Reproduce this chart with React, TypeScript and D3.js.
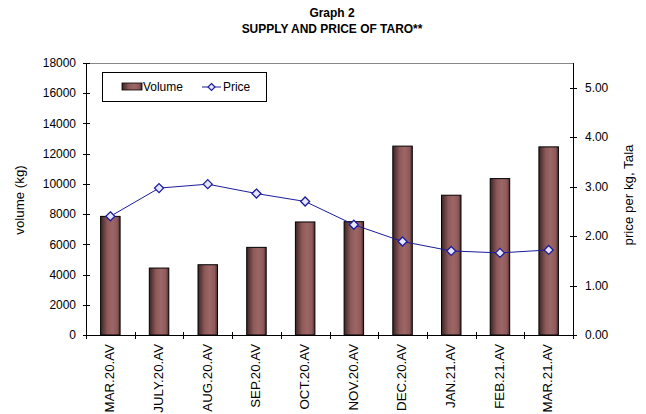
import React from 'react';
import * as d3 from 'd3';

const categories = ['MAR.20.AV', 'JULY.20.AV', 'AUG.20.AV', 'SEP.20.AV', 'OCT.20.AV', 'NOV.20.AV', 'DEC.20.AV', 'JAN.21.AV', 'FEB.21.AV', 'MAR.21.AV'];
const volume = [7850, 4430, 4650, 5800, 7480, 7500, 12500, 9250, 10350, 12450];
const price = [2.4, 2.97, 3.05, 2.86, 2.7, 2.23, 1.89, 1.7, 1.66, 1.72];
const leftTicks = [0, 2000, 4000, 6000, 8000, 10000, 12000, 14000, 16000, 18000];
const rightTicks = [0, 1, 2, 3, 4, 5];

const W = 646;
const H = 414;
const left = 86;
const right = 573;
const top = 63;
const bottom = 335;
const font = 'Liberation Sans, Arial, sans-serif';
const FS = 13.3;
const SX = 0.9;

function T(props: { x: number; y: number; rot?: boolean; anchor?: string; bold?: boolean; children: React.ReactNode }) {
  const { x, y, rot, anchor = 'start', bold, children } = props;
  return (
    <text
      transform={`translate(${x},${y}) scale(${SX},1)${rot ? ' rotate(-90)' : ''}`}
      textAnchor={anchor}
      dominantBaseline="central"
      fontSize={FS}
      fontWeight={bold ? 'bold' : 'normal'}
    >
      {children}
    </text>
  );
}

export default function App() {
  const x = d3.scaleBand<string>().domain(categories).range([left, right]).padding(0);
  const yL = d3.scaleLinear().domain([0, 18000]).range([bottom, top]);
  const yR = d3.scaleLinear().domain([0, 5.5]).range([bottom, top]);
  const bw = x.bandwidth() * 0.4;
  const cx = (c: string) => (x(c) as number) + x.bandwidth() / 2;
  const line = d3
    .line<number>()
    .x((_, i) => cx(categories[i]))
    .y((d) => yR(d));
  const diamond = (px: number, py: number, r = 4.5) =>
    `M${px},${py - r}L${px + r},${py}L${px},${py + r}L${px - r},${py}Z`;
  const boundaries = categories.map((c) => x(c) as number).concat([right]);

  return (
    <svg width={W} height={H} style={{ position: 'absolute', left: 0, top: 0, background: '#fff' }} fontFamily={font}>
      <defs>
        <linearGradient id="barGrad" x1="0" x2="1" y1="0" y2="0">
          <stop offset="0" stopColor="#3e2424" />
          <stop offset="0.35" stopColor="#8e5a5a" />
          <stop offset="0.6" stopColor="#9e6666" />
          <stop offset="0.85" stopColor="#8e5a5a" />
          <stop offset="1" stopColor="#4a2c2c" />
        </linearGradient>
      </defs>
      <rect x={0} y={0} width={W} height={H} fill="#fff" />
      <T x={332} y={13} anchor="middle" bold>Graph 2</T>
      <T x={332} y={29} anchor="middle" bold>SUPPLY AND PRICE OF TARO**</T>

      {/* plot top border */}
      <line x1={left} x2={right} y1={top + 0.5} y2={top + 0.5} stroke="#888" strokeWidth={1} />

      {/* bars */}
      {categories.map((c, i) => (
        <rect
          key={c}
          x={cx(c) - bw / 2}
          y={yL(volume[i])}
          width={bw}
          height={bottom - yL(volume[i])}
          fill="url(#barGrad)"
          stroke="#000"
          strokeWidth={1}
        />
      ))}

      {/* price line */}
      <path d={line(price) as string} fill="none" stroke="#1c1c9c" strokeWidth={1} />
      {price.map((p, i) => (
        <path key={i} d={diamond(cx(categories[i]), yR(p))} fill="#e6e6ff" stroke="#1c1c9c" strokeWidth={1.3} />
      ))}

      {/* left axis */}
      <line x1={left + 0.5} x2={left + 0.5} y1={top} y2={bottom} stroke="#000" />
      {leftTicks.map((t) => (
        <g key={t}>
          <line x1={left - 3} x2={left + 4} y1={Math.round(yL(t)) + 0.5} y2={Math.round(yL(t)) + 0.5} stroke="#000" />
          <T x={76} y={yL(t)} anchor="end">{t}</T>
        </g>
      ))}

      {/* right axis */}
      <line x1={right + 0.5} x2={right + 0.5} y1={top} y2={bottom} stroke="#000" />
      {rightTicks.map((t) => (
        <g key={t}>
          <line x1={right - 3} x2={right + 4} y1={Math.round(yR(t)) + 0.5} y2={Math.round(yR(t)) + 0.5} stroke="#000" />
          <T x={585} y={yR(t)}>{t.toFixed(2)}</T>
        </g>
      ))}

      {/* x axis */}
      <line x1={left} x2={right + 1} y1={bottom + 0.5} y2={bottom + 0.5} stroke="#000" />
      {boundaries.map((b, i) => (
        <line key={i} x1={Math.round(b) + 0.5} x2={Math.round(b) + 0.5} y1={bottom - 3} y2={bottom + 4} stroke="#000" />
      ))}
      {categories.map((c) => (
        <T key={c} x={cx(c)} y={344} rot anchor="end">{c}</T>
      ))}

      {/* axis titles */}
      <T x={20} y={200} rot anchor="middle">volume (kg)</T>
      <T x={629} y={195} rot anchor="middle">price per kg, Tala</T>

      {/* legend */}
      <rect x={102.5} y={72.5} width={164} height={29} fill="#fff" stroke="#000" />
      <rect x={122} y={83} width={20} height={7} fill="url(#barGrad)" stroke="#000" strokeWidth={0.8} />
      <T x={143} y={87}>Volume</T>
      <line x1={202} x2={221} y1={87} y2={87} stroke="#1c1c9c" />
      <path d={diamond(211.5, 87, 3.5)} fill="#e6e6ff" stroke="#1c1c9c" strokeWidth={1.2} />
      <T x={223} y={87}>Price</T>
    </svg>
  );
}
